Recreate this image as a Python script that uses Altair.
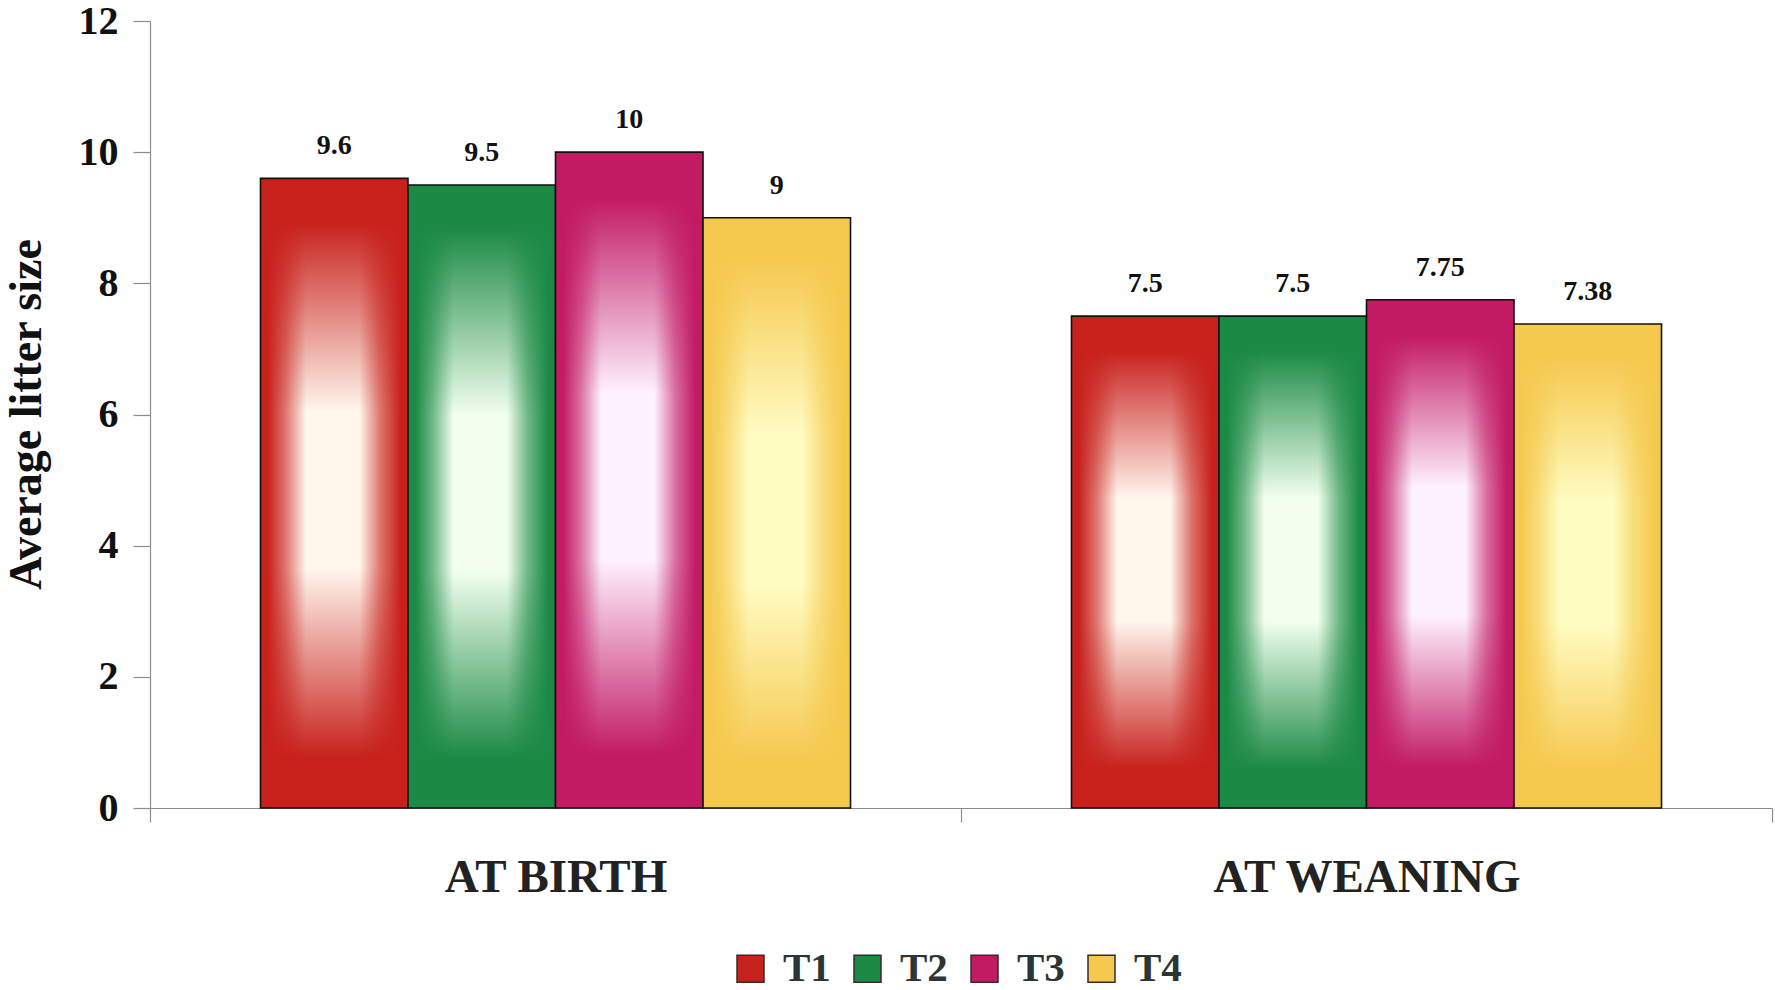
import altair as alt
import pandas as pd

# Average litter size per treatment, at birth and at weaning
categories = ["AT BIRTH", "AT WEANING"]
series = ["T1", "T2", "T3", "T4"]
birth_values = [9.6, 9.5, 10, 9]
weaning_values = [7.5, 7.5, 7.75, 7.38]

edge_colors = ["#C8211C", "#1B8A45", "#C21A63", "#F5C94E"]
center_colors = ["#FFF6EC", "#F2FFEE", "#FFF2FF", "#FFFCC2"]

rows = []
for cat, vals in zip(categories, [birth_values, weaning_values]):
    for s, v in zip(series, vals):
        rows.append({"category": cat, "series": s, "value": v, "label": f"{v:g}"})
df = pd.DataFrame(rows)

FONT = "Liberation Serif"


def rgba(hex_color, alpha):
    h = hex_color.lstrip("#")
    r, g, b = int(h[0:2], 16), int(h[2:4], 16), int(h[4:6], 16)
    return f"rgba({r},{g},{b},{alpha})"


def vertical_glow(edge, center):
    # colour at top and bottom, fading to a pale core
    stops = [(0.0, edge), (0.07, edge), (0.37, center), (0.62, center), (0.92, edge), (1.0, edge)]
    return alt.LinearGradient(
        gradient="linear", x1=0, y1=0, x2=0, y2=1,
        stops=[alt.GradientStop(offset=o, color=c) for o, c in stops],
    )


def horizontal_edges(edge):
    # opaque colour at the sides, clear in the middle so the glow shows through
    stops = [(0.0, 1), (0.05, 1), (0.17, 0.6), (0.31, 0), (0.67, 0), (0.81, 0.6), (0.95, 1), (1.0, 1)]
    return alt.LinearGradient(
        gradient="linear", x1=0, y1=0, x2=1, y2=0,
        stops=[alt.GradientStop(offset=o, color=rgba(edge, a)) for o, a in stops],
    )


x_enc = alt.X(
    "category:N",
    scale=alt.Scale(domain=categories, paddingInner=0, paddingOuter=0),
    axis=alt.Axis(
        title=None, labelAngle=0, tickBand="extent", tickSize=14, labelPadding=32,
        labelLimit=600, labelFont=FONT, labelFontWeight="bold", labelFontSize=47,
        labelColor="#222222", domainColor="#8c8c8c", tickColor="#8c8c8c",
        domainWidth=1.2, tickWidth=1.2,
    ),
)
xoff_enc = alt.XOffset(
    "series:N", scale=alt.Scale(domain=series, paddingInner=0, paddingOuter=0.749)
)
y_enc = alt.Y(
    "value:Q",
    scale=alt.Scale(domain=[0, 12], nice=False),
    axis=alt.Axis(
        values=[0, 2, 4, 6, 8, 10, 12], grid=False, tickSize=17, labelPadding=15,
        labelFont=FONT, labelFontWeight="bold", labelFontSize=40, labelColor="#111111",
        domainColor="#8c8c8c", tickColor="#8c8c8c", domainWidth=1.2, tickWidth=1.2,
        title="Average litter size", titleFont=FONT, titleFontWeight="bold",
        titleFontSize=46, titleColor="#111111", titleX=-124, titleY=393,
        titleBaseline="middle", titleAngle=270,
    ),
)

base = alt.Chart(df)

layers = []
for s, edge, center in zip(series, edge_colors, center_colors):
    subset = base.transform_filter(alt.datum.series == s)
    layers.append(
        subset.mark_bar(fill=vertical_glow(edge, center), strokeWidth=0)
        .encode(x=x_enc, xOffset=xoff_enc, y=y_enc)
    )
    layers.append(
        subset.mark_bar(fill=horizontal_edges(edge), stroke="#111111", strokeWidth=1.6)
        .encode(x=x_enc, xOffset=xoff_enc, y=y_enc)
    )

# transparent bars that carry the colour legend
legend_layer = base.mark_bar(opacity=0).encode(
    x=x_enc,
    xOffset=xoff_enc,
    y=y_enc,
    color=alt.Color(
        "series:N",
        scale=alt.Scale(domain=series, range=edge_colors),
        legend=alt.Legend(
            title=None, orient="none", direction="horizontal", columns=4,
            legendX=580, legendY=927, padding=0,
            symbolType="square", symbolSize=729, symbolOpacity=1,
            symbolStrokeColor="#3a2a2a", symbolStrokeWidth=1.5,
            labelFont=FONT, labelFontWeight="bold", labelFontSize=41,
            labelColor="#2b3535", labelOffset=12, columnPadding=16,
        ),
    ),
)

value_labels = base.mark_text(
    font=FONT, fontWeight="bold", fontSize=28, color="#111111",
    baseline="bottom", dy=-18,
).encode(x=x_enc, xOffset=xoff_enc, y=y_enc, text="label:N")

chart = (
    alt.layer(*layers, legend_layer, value_labels)
    .properties(
        width=1622,
        height=787,
        autosize=alt.AutoSizeParams(type="none"),
        padding={"left": 150, "top": 21, "right": 3, "bottom": 182},
        background="white",
    )
    .configure_view(stroke=None)
)

chart.save("out.html", embed_options={"renderer": "svg", "actions": False})
